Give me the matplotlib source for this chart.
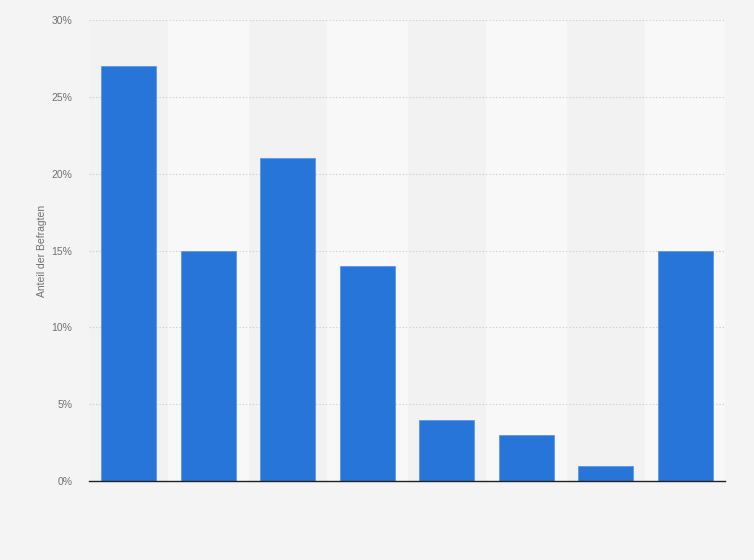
import matplotlib.pyplot as plt
import numpy as np

# Werte (in Prozent), keine Kategorienamen im Bild sichtbar
categories = ['', '', '', '', '', '', '', '']
values = [27, 15, 21, 14, 4, 3, 1, 15]
yticks = [0, 5, 10, 15, 20, 25, 30]

plt.rcParams['font.family'] = ['Liberation Sans', 'DejaVu Sans']

fig = plt.figure(figsize=(7.54, 5.6), dpi=100)
fig.patch.set_facecolor('#f4f4f4')
ax = fig.add_axes([0.118, 0.141, 0.8435, 0.823])
ax.set_facecolor('#f2f2f2')

x = np.arange(len(values))
# abwechselnde Hintergrundstreifen
for i in x:
    if i % 2 == 1:
        ax.axvspan(i - 0.5, i + 0.5, color='#f8f8f8', zorder=0)

ax.bar(x, values, width=0.69, color='#2775d9', edgecolor='#5b97e6', linewidth=0.6, zorder=3)

ax.set_xlim(-0.5, len(values) - 0.5)
ax.set_ylim(0, 30)
ax.set_yticks(yticks)
ax.set_yticklabels([f'{t}%' for t in yticks], fontsize=7.5, color='#707070')
ax.set_xticks(x)
ax.set_xticklabels(categories)
ax.tick_params(axis='both', length=0, pad=12)
ax.yaxis.grid(True, linestyle=(0, (1, 2)), color='#c8c8c8', linewidth=0.8, zorder=1)
ax.set_axisbelow(True)

for s in ['top', 'right', 'left']:
    ax.spines[s].set_visible(False)
ax.spines['bottom'].set_color('#222222')
ax.spines['bottom'].set_linewidth(1.0)
ax.spines['bottom'].set_zorder(4)

ax.set_ylabel('Anteil der Befragten', fontsize=7.5, color='#707070', labelpad=3)

fig.savefig('out.png', dpi=100, facecolor=fig.get_facecolor())
